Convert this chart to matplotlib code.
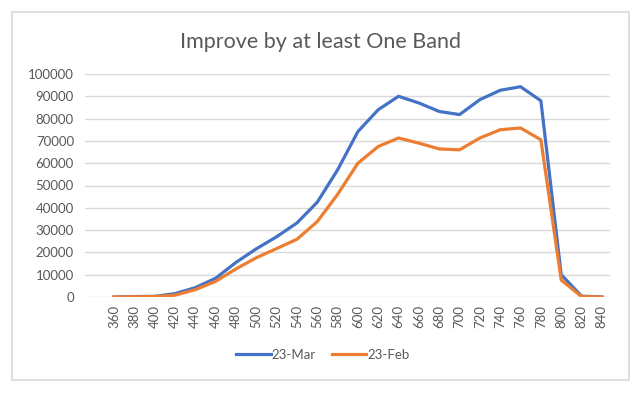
import matplotlib
matplotlib.use('Agg')
import matplotlib.pyplot as plt
from matplotlib.patches import Rectangle

# wavelength bins on the x axis
bins = [360, 380, 400, 420, 440, 460, 480, 500, 520, 540, 560, 580, 600,
        620, 640, 660, 680, 700, 720, 740, 760, 780, 800, 820, 840]

mar_23 = [0, 200, 300, 1500, 4200, 8400, 15500, 21600, 27000, 33200, 42500,
          57000, 74200, 84000, 90000, 87000, 83200, 81800, 88500, 92700,
          94300, 88000, 10000, 400, 0]
feb_23 = [0, 100, 200, 800, 3300, 7000, 12600, 17600, 21700, 25900, 33800,
          46000, 60000, 67500, 71300, 69000, 66400, 66000, 71300, 75000,
          75800, 70500, 7600, 200, 0]

yticks = list(range(0, 100001, 10000))

plt.rcParams['font.family'] = ['Lato', 'DejaVu Sans']
txt = '#595959'

fig = plt.figure(figsize=(6.4, 3.93), dpi=100)
fig.patches.append(Rectangle((12/640, 1 - 380/393), 617/640, 368/393,
                             transform=fig.transFigure, fill=False,
                             edgecolor='#D9D9D9', linewidth=1.2))

ax = fig.add_axes([85/640, 1 - 297/393, 525/640, 223/393])
ax.plot(bins, mar_23, color='#4472C4', lw=2.3, label='23-Mar', solid_joinstyle='round')
ax.plot(bins, feb_23, color='#ED7D31', lw=2.3, label='23-Feb', solid_joinstyle='round')

ax.set_xlim(331.5, 848)
ax.set_ylim(0, 100000)
ax.set_xticks(bins)
ax.set_xticklabels([str(b) for b in bins], rotation=90, color=txt, fontsize=9.5)
ax.set_yticks(yticks)
ax.set_yticklabels([str(v) for v in yticks], color=txt, fontsize=9.5)
ax.tick_params(length=0)
ax.tick_params(axis='x', pad=6)
ax.tick_params(axis='y', pad=8)
ax.grid(axis='y', color='#D9D9D9', lw=1)
ax.set_axisbelow(True)
for s in ax.spines.values():
    s.set_visible(False)

fig.text(320/640, 1 - 42/393, 'Improve by at least One Band', ha='center',
         va='center', fontsize=15.5, color=txt)

fig.legend(loc='center', bbox_to_anchor=(323/640, 1 - 355/393), ncol=2,
           frameon=False, fontsize=9.5, labelcolor=txt, handlelength=2.6,
           handletextpad=0.1, columnspacing=1.2)

fig.savefig('out.png', dpi=100)
